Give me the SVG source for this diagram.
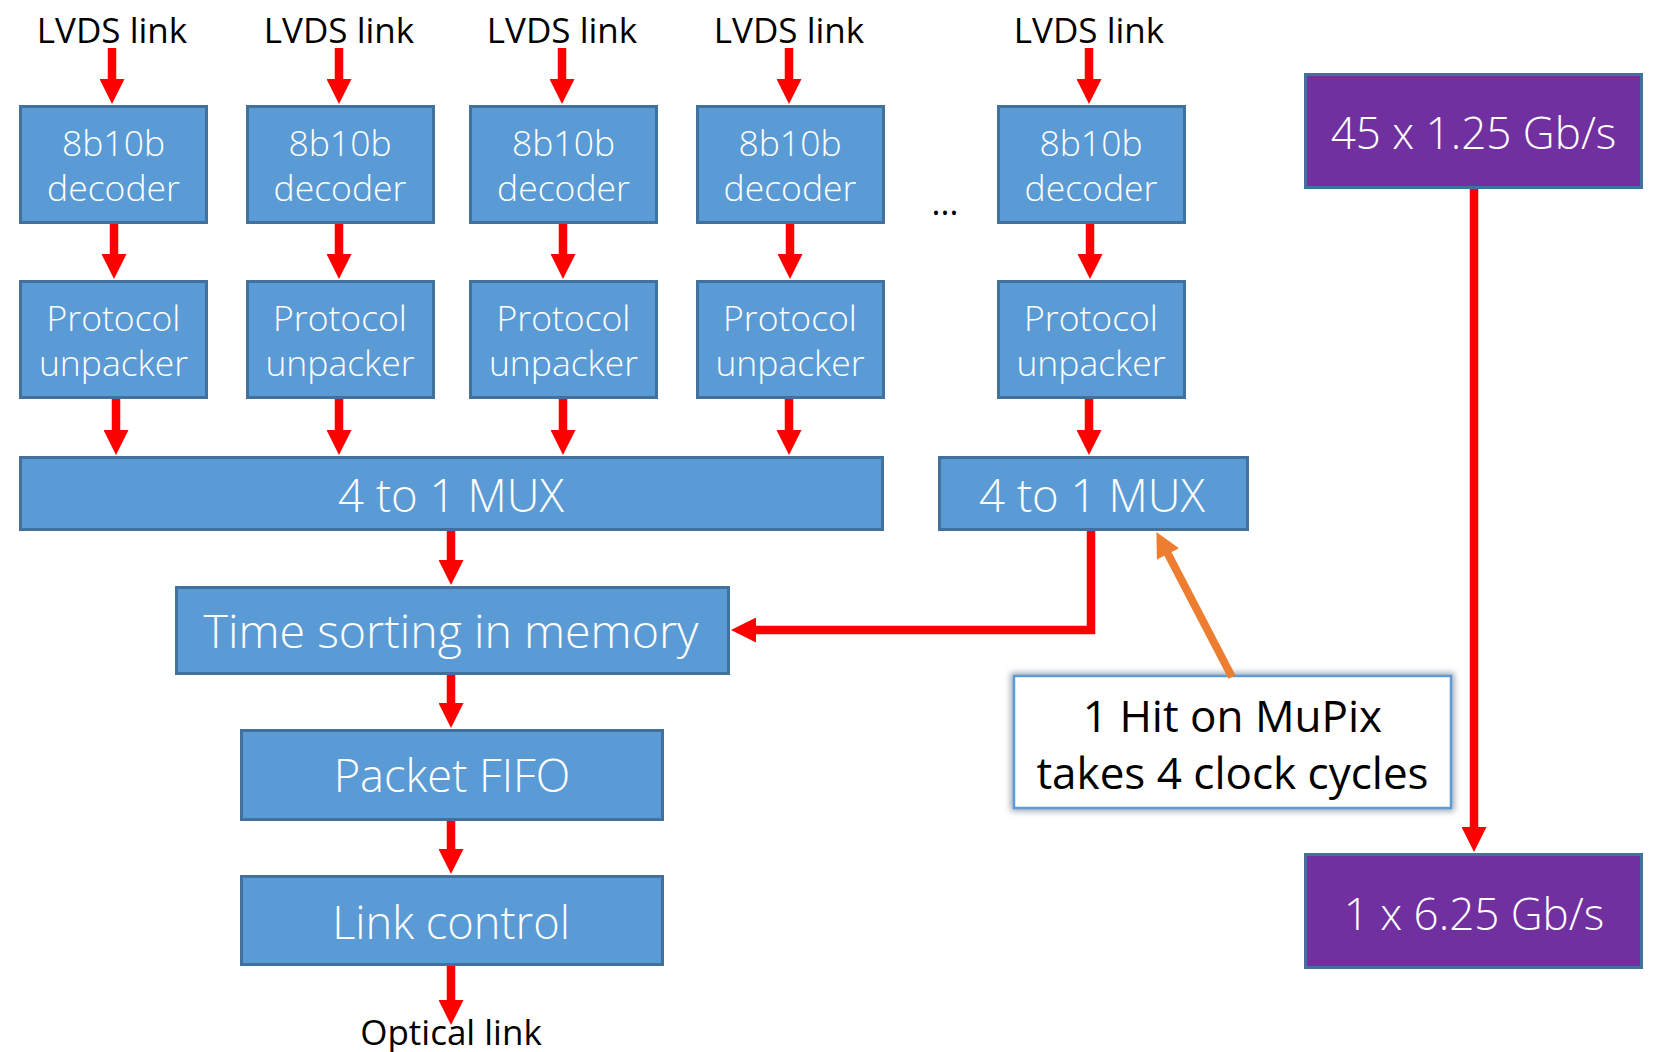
<svg xmlns="http://www.w3.org/2000/svg" width="1653" height="1052" viewBox="0 0 1653 1052">
<defs>
<style>
.box{fill:#5B9BD5;stroke:#41719C;stroke-width:3}
.pbox{fill:#7030A0;stroke:#41719C;stroke-width:3}
.wt{fill:#FFFFFF;font-family:"Open Sans","Noto Sans","Liberation Sans",sans-serif;font-weight:300;text-anchor:middle}
.s{font-size:35.5px}
.b{font-size:44px}
.bt{fill:#000000;font-family:"Open Sans","Noto Sans","Liberation Sans",sans-serif;font-weight:400;text-anchor:middle}
.ar{fill:none;stroke:#FF0000;stroke-width:8.5;marker-end:url(#ah)}
.ao{fill:none;stroke:#ED7D31;stroke-width:8;marker-end:url(#ao)}
</style>
<marker id="ah" viewBox="0 0 10 10" refX="0.4" refY="5" markerWidth="25" markerHeight="25" markerUnits="userSpaceOnUse" orient="auto"><path d="M0,0 L10,5 L0,10 z" fill="#FF0000"/></marker>
<marker id="ao" viewBox="0 0 10 10" refX="0.4" refY="5" markerWidth="25" markerHeight="25" markerUnits="userSpaceOnUse" orient="auto"><path d="M0,0 L10,5 L0,10 z" fill="#ED7D31"/></marker>
<filter id="glow" x="-10%" y="-20%" width="120%" height="140%">
<feMorphology in="SourceAlpha" operator="dilate" radius="2" result="d"/>
<feGaussianBlur in="d" stdDeviation="3" result="bl"/>
<feFlood flood-color="#8a96a3" flood-opacity="0.85"/>
<feComposite in2="bl" operator="in" result="sh"/>
<feMerge><feMergeNode in="sh"/><feMergeNode in="SourceGraphic"/></feMerge>
</filter>
</defs>
<rect width="1653" height="1052" fill="#FFFFFF"/>

<g id="labels">
<text class="bt" x="112" y="43" font-size="35">LVDS link</text>
<text class="bt" x="339" y="43" font-size="35">LVDS link</text>
<text class="bt" x="562" y="43" font-size="35">LVDS link</text>
<text class="bt" x="789" y="43" font-size="35">LVDS link</text>
<text class="bt" x="1089" y="43" font-size="35">LVDS link</text>
<text class="bt" x="945" y="215" font-size="34">...</text>
<text class="bt" x="451" y="1045" font-size="35">Optical link</text>
</g>

<g id="dec1"><rect class="box" x="20.5" y="106.5" width="186" height="116"/><text class="wt s" x="113.5" y="156">8b10b</text><text class="wt s" x="113.5" y="201">decoder</text></g>
<g id="dec2"><rect class="box" x="247.5" y="106.5" width="186" height="116"/><text class="wt s" x="340" y="156">8b10b</text><text class="wt s" x="340" y="201">decoder</text></g>
<g id="dec3"><rect class="box" x="470.5" y="106.5" width="186" height="116"/><text class="wt s" x="563.5" y="156">8b10b</text><text class="wt s" x="563.5" y="201">decoder</text></g>
<g id="dec4"><rect class="box" x="697.5" y="106.5" width="186" height="116"/><text class="wt s" x="790" y="156">8b10b</text><text class="wt s" x="790" y="201">decoder</text></g>
<g id="dec5"><rect class="box" x="998.5" y="106.5" width="186" height="116"/><text class="wt s" x="1091" y="156">8b10b</text><text class="wt s" x="1091" y="201">decoder</text></g>

<g id="prot1"><rect class="box" x="20.5" y="281.5" width="186" height="116"/><text class="wt s" x="113.5" y="331">Protocol</text><text class="wt s" x="113.5" y="376">unpacker</text></g>
<g id="prot2"><rect class="box" x="247.5" y="281.5" width="186" height="116"/><text class="wt s" x="340" y="331">Protocol</text><text class="wt s" x="340" y="376">unpacker</text></g>
<g id="prot3"><rect class="box" x="470.5" y="281.5" width="186" height="116"/><text class="wt s" x="563.5" y="331">Protocol</text><text class="wt s" x="563.5" y="376">unpacker</text></g>
<g id="prot4"><rect class="box" x="697.5" y="281.5" width="186" height="116"/><text class="wt s" x="790" y="331">Protocol</text><text class="wt s" x="790" y="376">unpacker</text></g>
<g id="prot5"><rect class="box" x="998.5" y="281.5" width="186" height="116"/><text class="wt s" x="1091" y="331">Protocol</text><text class="wt s" x="1091" y="376">unpacker</text></g>

<g id="mux1"><rect class="box" x="20.5" y="457.5" width="862" height="72"/><text class="wt" font-size="45.5" x="451" y="512">4 to 1 MUX</text></g>
<g id="mux2"><rect class="box" x="939.5" y="457.5" width="308" height="72"/><text class="wt" font-size="45.5" x="1092" y="512">4 to 1 MUX</text></g>
<g id="timesort"><rect class="box" x="176.5" y="587.5" width="552" height="86"/><text class="wt" font-size="46.5" x="451" y="648">Time sorting in memory</text></g>
<g id="fifo"><rect class="box" x="241.5" y="730.5" width="421" height="89"/><text class="wt" font-size="45.2" x="452" y="792">Packet FIFO</text></g>
<g id="linkctrl"><rect class="box" x="241.5" y="876.5" width="421" height="88"/><text class="wt" font-size="45.2" x="451" y="939">Link control</text></g>

<g id="rate1"><rect class="pbox" x="1305.5" y="74.5" width="336" height="113"/><text class="wt b" x="1473.5" y="149">45 x 1.25 Gb/s</text></g>
<g id="rate2"><rect class="pbox" x="1305.5" y="854.5" width="336" height="113"/><text class="wt b" x="1474" y="930">1 x 6.25 Gb/s</text></g>

<g id="callout"><rect x="1014" y="676" width="437" height="132" fill="#FFFFFF" stroke="#5B9BD5" stroke-width="2.5" filter="url(#glow)"/><text class="bt" x="1232.5" y="732" font-size="44">1 Hit on MuPix</text><text class="bt" x="1232.5" y="789" font-size="44">takes 4 clock cycles</text></g>

<g id="connectors">
<path class="ar" d="M112,48 V80"/>
<path class="ar" d="M339,48 V80"/>
<path class="ar" d="M562,48 V80"/>
<path class="ar" d="M789,48 V80"/>
<path class="ar" d="M1089,48 V80"/>
<path class="ar" d="M114,224 V255"/>
<path class="ar" d="M339,224 V255"/>
<path class="ar" d="M563,224 V255"/>
<path class="ar" d="M790,224 V255"/>
<path class="ar" d="M1090,224 V255"/>
<path class="ar" d="M116,399 V431"/>
<path class="ar" d="M339,399 V431"/>
<path class="ar" d="M563,399 V431"/>
<path class="ar" d="M789,399 V431"/>
<path class="ar" d="M1089,399 V431"/>
<path class="ar" d="M451,531 V561"/>
<path class="ar" d="M451,675 V704"/>
<path class="ar" d="M451,821 V850"/>
<path class="ar" d="M451,966 V1001"/>
<path class="ar" d="M1091,531 V630 H755" stroke-linejoin="miter"/>
<path class="ar" d="M1474,189 V828"/>
<path class="ao" d="M1232,677 L1167.5,553.2"/>
</g>
</svg>
